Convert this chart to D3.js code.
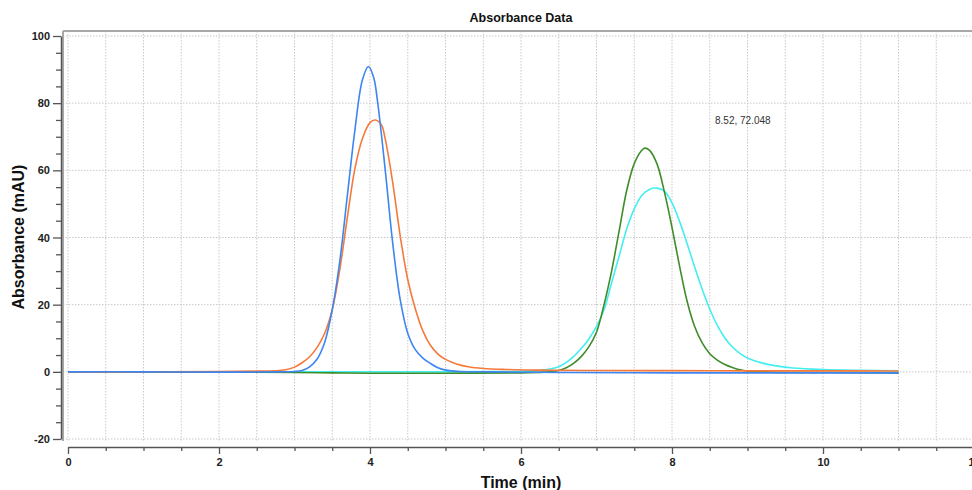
<!DOCTYPE html>
<html>
<head>
<meta charset="utf-8">
<script src="https://cdn.jsdelivr.net/npm/d3@7"></script>
<style>
  body { margin: 0; background: #fff; }
  svg { font-family: "Liberation Sans", Arial, sans-serif; }
</style>
</head>
<body>
<div id="chart"></div>
<script>
// time (min) / absorbance (mAU)
const blueT = [0, 1, 2, 2.8, 3.0, 3.1, 3.2, 3.3, 3.4, 3.5, 3.6, 3.7, 3.8, 3.9, 3.98, 4.05, 4.1, 4.2, 4.3, 4.4, 4.5, 4.6, 4.7, 4.8, 4.9, 5.0, 5.2, 5.6, 6.5, 8, 9.5, 11];
const blueV = [0, 0, -0.1, 0, 0.1, 0.4, 1.5, 3.8, 8.8, 18.5, 33, 52.5, 72, 87, 90.9, 87.5, 80.5, 60.5, 38.5, 21.5, 11.5, 6.6, 4.1, 2.5, 1.2, 0.5, 0.1, 0, -0.2, -0.3, -0.3, -0.3];

const orangeT = [0, 1, 2, 2.5, 2.8, 2.9, 3.0, 3.1, 3.2, 3.3, 3.4, 3.5, 3.6, 3.7, 3.8, 3.9, 4.0, 4.07, 4.15, 4.2, 4.3, 4.4, 4.5, 4.6, 4.7, 4.8, 4.9, 5.0, 5.1, 5.2, 5.3, 5.5, 5.8, 6.2, 7, 8, 9, 10, 11];
const orangeV = [0, 0, 0.1, 0.2, 0.4, 0.7, 1.4, 2.7, 4.5, 7.3, 11.5, 18.5, 30.5, 46, 60.5, 69.5, 74.2, 75.0, 73.6, 69.5, 56.5, 40.5, 27.5, 18.8, 12.2, 7.9, 5.3, 3.7, 2.7, 2.0, 1.5, 1.0, 0.7, 0.5, 0.4, 0.35, 0.3, 0.3, 0.25];

const greenT = [0, 1, 2, 3, 3.5, 4, 5, 6, 6.3, 6.4, 6.5, 6.6, 6.7, 6.8, 6.9, 7.0, 7.1, 7.2, 7.3, 7.4, 7.5, 7.6, 7.64, 7.7, 7.8, 7.9, 8.0, 8.1, 8.2, 8.3, 8.4, 8.5, 8.6, 8.7, 8.8, 8.9, 9.0, 9.2, 9.6, 10, 11];
const greenV = [0, -0.1, -0.1, -0.2, -0.3, -0.4, -0.4, -0.3, -0.1, 0.1, 0.4, 1.2, 2.6, 4.6, 7.5, 11.8, 20, 30, 42, 54, 62, 66, 66.6, 66.0, 62, 53.5, 43, 31.5, 21, 13.5, 8.6, 5.4, 3.5, 2.2, 1.3, 0.6, 0.2, 0, -0.2, -0.2, -0.3];

const cyanT = [0, 1, 2, 3, 4, 5, 5.6, 6.0, 6.2, 6.4, 6.5, 6.6, 6.7, 6.8, 6.9, 7.0, 7.1, 7.2, 7.3, 7.4, 7.5, 7.6, 7.7, 7.8, 7.9, 8.0, 8.1, 8.2, 8.3, 8.4, 8.5, 8.6, 8.7, 8.8, 8.9, 9.0, 9.2, 9.4, 9.6, 10, 10.5, 11];
const cyanV = [0, 0, 0, 0, 0, 0, 0.05, 0.15, 0.35, 0.9, 1.5, 2.8, 4.6, 7.0, 9.8, 13.5, 18.5, 26.5, 34.5, 42.5, 48.5, 52.5, 54.3, 54.7, 53.8, 50.3, 44.8, 38.2, 31.2, 24.6, 18.7, 13.8, 10.1, 7.4, 5.5, 4.1, 2.6, 1.7, 1.15, 0.7, 0.45, 0.3];

const seriesNames = ['cyan', 'green', 'orange', 'blue'];
const seriesColors = ['#44eef0', '#3f8c2a', '#f5793b', '#3d85f0'];
const seriesT = [cyanT, greenT, orangeT, blueT];
const seriesV = [cyanV, greenV, orangeV, blueV];

const yMajor = [-20, 0, 20, 40, 60, 80, 100];
const xMajor = [0, 2, 4, 6, 8, 10, 12];
const cursorLabel = '8.52, 72.048';

const width = 972, height = 490;
const plotLeft = 63, plotTop = 31, plotBottom = 441;

const x = d3.scaleLinear().domain([0, 12]).range([68, 974]);
const y = d3.scaleLinear().domain([-20, 100]).range([439, 36]);

const svg = d3.select('#chart').append('svg')
    .attr('width', width)
    .attr('height', height);

// grid
const grid = svg.append('g')
    .attr('stroke', '#c8c8c8')
    .attr('stroke-width', 1)
    .attr('stroke-dasharray', '1.5,1.5');

grid.selectAll('line.v')
  .data(d3.range(0, 12.01, 0.5))
  .join('line')
    .attr('class', 'v')
    .attr('x1', d => x(d)).attr('x2', d => x(d))
    .attr('y1', plotTop).attr('y2', plotBottom);

grid.selectAll('line.h')
  .data(yMajor)
  .join('line')
    .attr('class', 'h')
    .attr('x1', plotLeft).attr('x2', width)
    .attr('y1', d => y(d)).attr('y2', d => y(d));

// plot frame
svg.append('line')
    .attr('x1', plotLeft).attr('x2', width)
    .attr('y1', plotTop).attr('y2', plotTop)
    .attr('stroke', '#a8a8a8').attr('stroke-width', 2);
svg.append('line')
    .attr('x1', plotLeft).attr('x2', plotLeft)
    .attr('y1', plotTop).attr('y2', plotBottom)
    .attr('stroke', '#a8a8a8').attr('stroke-width', 2);

// traces
const line = d3.line()
    .x(d => x(d[0]))
    .y(d => y(d[1]))
    .curve(d3.curveCatmullRom.alpha(0.5));

svg.append('g')
    .attr('fill', 'none')
    .attr('stroke-width', 1.6)
  .selectAll('path')
  .data(seriesNames)
  .join('path')
    .attr('stroke', (d, i) => seriesColors[i])
    .attr('d', (d, i) => line(d3.zip(seriesT[i], seriesV[i])));

// y axis
const yAxis = svg.append('g')
    .attr('transform', 'translate(61,0)')
    .call(d3.axisLeft(y)
      .tickValues(d3.range(-20, 100.1, 5))
      .tickFormat(d => d % 20 === 0 ? d : '')
      .tickSizeOuter(0));
yAxis.select('.domain').attr('stroke', '#555').attr('stroke-width', 1.5);
yAxis.selectAll('.tick line')
    .attr('stroke', '#555').attr('stroke-width', 1.3)
    .attr('x2', d => d % 20 === 0 ? -8 : -5);
yAxis.selectAll('.tick text')
    .attr('x', -11)
    .attr('fill', '#222')
    .style('font-size', '11px')
    .style('font-weight', 'bold');

// x axis
const xAxis = svg.append('g')
    .attr('transform', 'translate(0,447)')
    .call(d3.axisBottom(x)
      .tickValues(d3.range(0, 12.01, 0.5))
      .tickFormat(d => d % 2 === 0 ? d : '')
      .tickSizeOuter(0));
xAxis.select('.domain').attr('stroke', '#555').attr('stroke-width', 1.5);
xAxis.selectAll('.tick line')
    .attr('stroke', '#555').attr('stroke-width', 1.3)
    .attr('y2', d => d % 2 === 0 ? 7 : 4);
xAxis.selectAll('.tick text')
    .attr('y', 11)
    .attr('fill', '#222')
    .style('font-size', '11px')
    .style('font-weight', 'bold');

// titles
svg.append('text')
    .attr('x', 521).attr('y', 22)
    .attr('text-anchor', 'middle')
    .attr('fill', '#111')
    .style('font-size', '12.5px').style('font-weight', 'bold')
    .text('Absorbance Data');

svg.append('text')
    .attr('x', 521).attr('y', 488)
    .attr('text-anchor', 'middle')
    .attr('fill', '#111')
    .style('font-size', '16px').style('font-weight', 'bold')
    .text('Time (min)');

svg.append('text')
    .attr('transform', 'translate(24,237) rotate(-90)')
    .attr('text-anchor', 'middle')
    .attr('fill', '#111')
    .style('font-size', '16px').style('font-weight', 'bold')
    .text('Absorbance (mAU)');

svg.append('text')
    .attr('x', 715).attr('y', 124)
    .attr('fill', '#333')
    .style('font-size', '10px')
    .text(cursorLabel);
</script>
</body>
</html>
